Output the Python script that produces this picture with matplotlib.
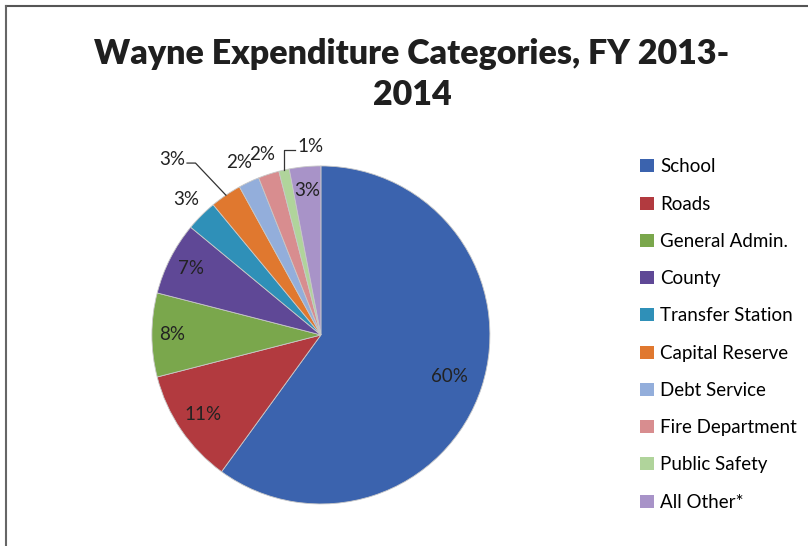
import matplotlib
matplotlib.use('Agg')
import matplotlib.pyplot as plt
import numpy as np
from matplotlib.lines import Line2D
from matplotlib.patches import Patch

categories = ['School', 'Roads', 'General Admin.', 'County', 'Transfer Station',
              'Capital Reserve', 'Debt Service', 'Fire Department', 'Public Safety',
              'All Other*']
shares = [60, 11, 8, 7, 3, 3, 2, 2, 1, 3]
colors = ['#3b63ae', '#b23a3f', '#7aa74c', '#5f4896', '#2f90b8',
          '#e0782f', '#93aedb', '#d88d8f', '#b0d49b', '#a893c8']
# radial position of each label (fraction of radius)
label_r = [0.80, 0.84, 0.88, 0.86, 1.13, 1.13, 1.13, 1.12, 1.13, 0.86]
# leader lines: knee offset and text offset from the wedge edge, None = no leader
leader = [None, None, None, None, None,
          ((-0.18, 0.19), (-0.30, 0.21)), None, None,
          ((0.0, 0.12), (0.135, 0.14)), None]

plt.rcParams['font.family'] = ['Lato', 'DejaVu Sans']

fig = plt.figure(figsize=(8.08, 5.46), dpi=100)
ax = fig.add_axes([0.188, 0.077, 338/808, 338/546])
wedges, _ = ax.pie(shares, colors=colors, startangle=90, counterclock=False,
                   radius=1, wedgeprops=dict(linewidth=0.6, edgecolor='#c8c8c8'))
ax.set_xlim(-1, 1); ax.set_ylim(-1, 1)
ax.set_aspect('equal')

for w, v, r, ld in zip(wedges, shares, label_r, leader):
    mid = np.deg2rad((w.theta1 + w.theta2) / 2)
    ex, ey = np.cos(mid), np.sin(mid)
    if ld is not None:
        (kx, ky), (tx, ty) = ld
        side = -1 if tx < 0 else 1
        ax.plot([ex, ex + kx, ex + tx - side * 0.07], [ey, ey + ky, ey + ky],
                color='#333333', lw=0.9, clip_on=False)
        ax.text(ex + tx + side * 0.02, ey + ty, f'{v}%', ha='center', va='center',
                fontsize=13.5, color='#222222')
    else:
        ax.text(ex * r, ey * r, f'{v}%', ha='center', va='center',
                fontsize=13.5, color='#222222')

fig.text(0.51, 0.864, 'Wayne Expenditure Categories, FY 2013-\n2014', ha='center',
         va='center', fontsize=24.5, fontweight='heavy', color='#1f1f1f', linespacing=1.36)

handles = [Patch(facecolor=c, edgecolor='none') for c in colors]
fig.legend(handles, categories, loc='upper left', bbox_to_anchor=(0.781, 0.727),
           frameon=False, fontsize=13.5, handlelength=0.7, handleheight=0.7,
           handletextpad=0.35, labelspacing=1.08, borderpad=0)

fig.add_artist(Line2D([0.007, 1.0], [0.989, 0.989], color='#555555', lw=1.5))
fig.add_artist(Line2D([0.008, 0.008], [0.0, 0.989], color='#666666', lw=1.5))

fig.savefig('out.png', dpi=100)
